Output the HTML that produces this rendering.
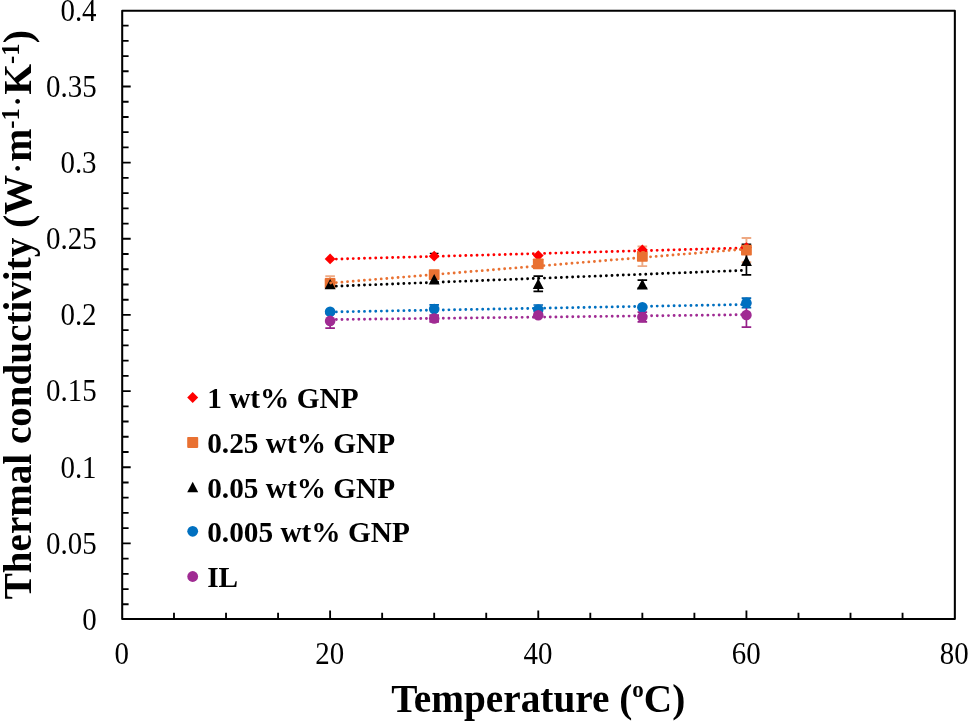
<!DOCTYPE html><html><head><meta charset="utf-8"><style>html,body{margin:0;padding:0;background:#fff;width:968px;height:721px;overflow:hidden}svg{display:block;will-change:transform}text{font-family:"Liberation Serif",serif}</style></head><body>
<svg width="968" height="721" viewBox="0 0 968 721">
<rect width="968" height="721" fill="#fff"/>
<path d="M122.20 604.29H128.60M122.20 589.06H128.60M122.20 573.83H128.60M122.20 558.60H128.60M122.20 543.38H130.70M122.20 528.15H128.60M122.20 512.92H128.60M122.20 497.69H128.60M122.20 482.46H128.60M122.20 467.23H130.70M122.20 452.00H128.60M122.20 436.77H128.60M122.20 421.54H128.60M122.20 406.31H128.60M122.20 391.08H130.70M122.20 375.86H128.60M122.20 360.63H128.60M122.20 345.40H128.60M122.20 330.17H128.60M122.20 314.94H130.70M122.20 299.71H128.60M122.20 284.48H128.60M122.20 269.25H128.60M122.20 254.02H128.60M122.20 238.79H130.70M122.20 223.57H128.60M122.20 208.34H128.60M122.20 193.11H128.60M122.20 177.88H128.60M122.20 162.65H130.70M122.20 147.42H128.60M122.20 132.19H128.60M122.20 116.96H128.60M122.20 101.73H128.60M122.20 86.50H130.70M122.20 71.28H128.60M122.20 56.05H128.60M122.20 40.82H128.60M122.20 25.59H128.60M173.99 619.05V612.65M226.03 619.05V612.65M278.07 619.05V612.65M330.11 619.05V610.55M382.15 619.05V612.65M434.19 619.05V612.65M486.23 619.05V612.65M538.27 619.05V610.55M590.31 619.05V612.65M642.35 619.05V612.65M694.39 619.05V612.65M746.43 619.05V610.55M798.47 619.05V612.65M850.51 619.05V612.65M902.55 619.05V612.65" stroke="#000" stroke-width="1.85" fill="none"/>
<rect x="122.20" y="10.75" width="832.65" height="608.30" fill="none" stroke="#000" stroke-width="2.05" stroke-linejoin="round"/>
<text transform="translate(96.6 629.92) scale(0.965 1.04)" font-size="30" text-anchor="end">0</text>
<text transform="translate(96.6 553.77) scale(0.965 1.04)" font-size="30" text-anchor="end">0.05</text>
<text transform="translate(96.6 477.63) scale(0.965 1.04)" font-size="30" text-anchor="end">0.1</text>
<text transform="translate(96.6 401.48) scale(0.965 1.04)" font-size="30" text-anchor="end">0.15</text>
<text transform="translate(96.6 325.34) scale(0.965 1.04)" font-size="30" text-anchor="end">0.2</text>
<text transform="translate(96.6 249.19) scale(0.965 1.04)" font-size="30" text-anchor="end">0.25</text>
<text transform="translate(96.6 173.05) scale(0.965 1.04)" font-size="30" text-anchor="end">0.3</text>
<text transform="translate(96.6 96.90) scale(0.965 1.04)" font-size="30" text-anchor="end">0.35</text>
<text transform="translate(96.6 20.76) scale(0.965 1.04)" font-size="30" text-anchor="end">0.4</text>
<text transform="translate(121.65 663.9) scale(0.965 1.04)" font-size="30" text-anchor="middle">0</text>
<text transform="translate(329.81 663.9) scale(0.965 1.04)" font-size="30" text-anchor="middle">20</text>
<text transform="translate(537.97 663.9) scale(0.965 1.04)" font-size="30" text-anchor="middle">40</text>
<text transform="translate(746.13 663.9) scale(0.965 1.04)" font-size="30" text-anchor="middle">60</text>
<text transform="translate(954.29 663.9) scale(0.965 1.04)" font-size="30" text-anchor="middle">80</text>
<text transform="translate(391.2 712.4) scale(1 1.04)" font-size="39.3" font-weight="bold">Temperature (<tspan font-size="23" dy="-15.2">o</tspan><tspan dy="15.2">C)</tspan></text>
<text transform="translate(31.4 599.2) rotate(-90) scale(0.9944 1.02)" font-size="39.3" font-weight="bold">Thermal conductivity</text>
<text transform="translate(31.4 228.1) rotate(-90) scale(1.012 1.02)" font-size="39.3" font-weight="bold">(W<tspan font-weight="normal">·</tspan>m<tspan font-size="24.5" dy="-12.3">-1</tspan><tspan dy="12.3" font-weight="normal">·</tspan>K<tspan font-size="24.5" dy="-12.3">-1</tspan><tspan dy="12.3">)</tspan></text>
<path d="M434.19 253.30V256.20M429.79 253.30H438.59" stroke="#000000" stroke-width="1.3" fill="none"/>
<path d="M330.11 276.20V283.50M325.31 276.20H334.91" stroke="#EEA983" stroke-width="1.9" fill="none"/>
<path d="M642.35 246.50V266.10M637.55 246.50H647.15M637.55 266.10H647.15" stroke="#EEA983" stroke-width="1.9" fill="none"/>
<path d="M746.43 238.00V262.20M741.63 238.00H751.23M741.63 262.20H751.23" stroke="#EEA983" stroke-width="1.9" fill="none"/>
<path d="M538.27 276.20V291.40M533.47 276.20H543.07M533.47 291.40H543.07" stroke="#000000" stroke-width="1.7" fill="none"/>
<path d="M642.35 280.20V288.20M637.55 280.20H647.15M637.55 288.20H647.15" stroke="#000000" stroke-width="1.7" fill="none"/>
<path d="M746.43 244.40V274.80M741.63 244.40H751.23M741.63 274.80H751.23" stroke="#000000" stroke-width="1.7" fill="none"/>
<path d="M434.19 304.90V309.00M429.39 304.90H438.99" stroke="#0066B5" stroke-width="1.7" fill="none"/>
<path d="M538.27 305.00V309.50M533.47 305.00H543.07" stroke="#0066B5" stroke-width="1.7" fill="none"/>
<path d="M746.43 298.10V307.70M741.63 298.10H751.23M741.63 307.70H751.23" stroke="#0066B5" stroke-width="1.7" fill="none"/>
<path d="M330.11 313.70V328.10M325.31 313.70H334.91M325.31 328.10H334.91" stroke="#961F89" stroke-width="1.7" fill="none"/>
<path d="M434.19 315.10V321.90M429.39 315.10H438.99M429.39 321.90H438.99" stroke="#961F89" stroke-width="1.7" fill="none"/>
<path d="M642.35 312.10V321.90M637.55 312.10H647.15M637.55 321.90H647.15" stroke="#961F89" stroke-width="1.7" fill="none"/>
<path d="M746.43 302.80V327.20M741.63 302.80H751.23M741.63 327.20H751.23" stroke="#961F89" stroke-width="1.7" fill="none"/>
<path d="M330.11 253.50L335.51 258.90L330.11 264.30L324.71 258.90Z" fill="#FF0000"/>
<path d="M434.19 250.80L439.59 256.20L434.19 261.60L428.79 256.20Z" fill="#FF0000"/>
<path d="M538.27 250.20L543.67 255.60L538.27 261.00L532.87 255.60Z" fill="#FF0000"/>
<path d="M642.35 244.40L647.75 249.80L642.35 255.20L636.95 249.80Z" fill="#FF0000"/>
<path d="M746.43 242.20L751.83 247.60L746.43 253.00L741.03 247.60Z" fill="#FF0000"/>
<rect x="324.71" y="278.10" width="10.8" height="10.8" rx="0.8" fill="#E97132"/>
<rect x="428.79" y="269.20" width="10.8" height="10.8" rx="0.8" fill="#E97132"/>
<rect x="532.87" y="258.50" width="10.8" height="10.8" rx="0.8" fill="#E97132"/>
<rect x="636.95" y="250.90" width="10.8" height="10.8" rx="0.8" fill="#E97132"/>
<rect x="741.03" y="244.70" width="10.8" height="10.8" rx="0.8" fill="#E97132"/>
<path d="M330.11 278.90L335.61 289.30L324.61 289.30Z" fill="#000000"/>
<path d="M434.19 274.10L439.69 284.50L428.69 284.50Z" fill="#000000"/>
<path d="M538.27 278.60L543.77 289.00L532.77 289.00Z" fill="#000000"/>
<path d="M642.35 279.00L647.85 289.40L636.85 289.40Z" fill="#000000"/>
<path d="M746.43 255.60L751.93 266.00L740.93 266.00Z" fill="#000000"/>
<circle cx="330.11" cy="311.80" r="5.3" fill="#0070C0"/>
<circle cx="434.19" cy="309.00" r="5.3" fill="#0070C0"/>
<circle cx="538.27" cy="309.50" r="5.3" fill="#0070C0"/>
<circle cx="642.35" cy="307.30" r="5.3" fill="#0070C0"/>
<circle cx="746.43" cy="302.90" r="5.3" fill="#0070C0"/>
<circle cx="330.11" cy="320.90" r="5.3" fill="#A02B93"/>
<circle cx="434.19" cy="318.50" r="5.3" fill="#A02B93"/>
<circle cx="538.27" cy="315.30" r="5.3" fill="#A02B93"/>
<circle cx="642.35" cy="317.00" r="5.3" fill="#A02B93"/>
<circle cx="746.43" cy="315.00" r="5.3" fill="#A02B93"/>
<path d="M330.11 259.25L746.43 247.90" stroke="#FF0000" stroke-width="2.9" stroke-linecap="round" stroke-dasharray="0 5.63" stroke-dashoffset="-0.6" fill="none"/>
<path d="M330.11 283.10L746.43 249.00" stroke="#E97132" stroke-width="2.9" stroke-linecap="round" stroke-dasharray="0 5.63" stroke-dashoffset="-0.6" fill="none"/>
<path d="M330.11 286.40L746.43 270.30" stroke="#000000" stroke-width="2.9" stroke-linecap="round" stroke-dasharray="0 5.63" stroke-dashoffset="-0.6" fill="none"/>
<path d="M330.11 312.00L746.43 304.50" stroke="#0070C0" stroke-width="2.9" stroke-linecap="round" stroke-dasharray="0 5.63" stroke-dashoffset="-0.6" fill="none"/>
<path d="M330.11 319.60L746.43 314.70" stroke="#A02B93" stroke-width="2.9" stroke-linecap="round" stroke-dasharray="0 5.63" stroke-dashoffset="-0.6" fill="none"/>
<path d="M192.70 392.10L198.20 397.60L192.70 403.10L187.20 397.60Z" fill="#FF0000"/>
<text x="207.2" y="408.10" font-size="29.3" font-weight="bold">1 wt% GNP</text>
<rect x="187.20" y="436.90" width="11" height="11" rx="0.8" fill="#E97132"/>
<text x="207.2" y="452.90" font-size="29.3" font-weight="bold">0.25 wt% GNP</text>
<path d="M192.70 481.85L198.20 492.35L187.20 492.35Z" fill="#000000"/>
<text x="207.2" y="497.60" font-size="29.3" font-weight="bold">0.05 wt% GNP</text>
<circle cx="192.70" cy="531.30" r="5.4" fill="#0070C0"/>
<text x="207.2" y="541.80" font-size="29.3" font-weight="bold">0.005 wt% GNP</text>
<circle cx="192.70" cy="576.50" r="5.4" fill="#A02B93"/>
<text x="207.2" y="587.00" font-size="29.3" font-weight="bold">IL</text>
</svg></body></html>
